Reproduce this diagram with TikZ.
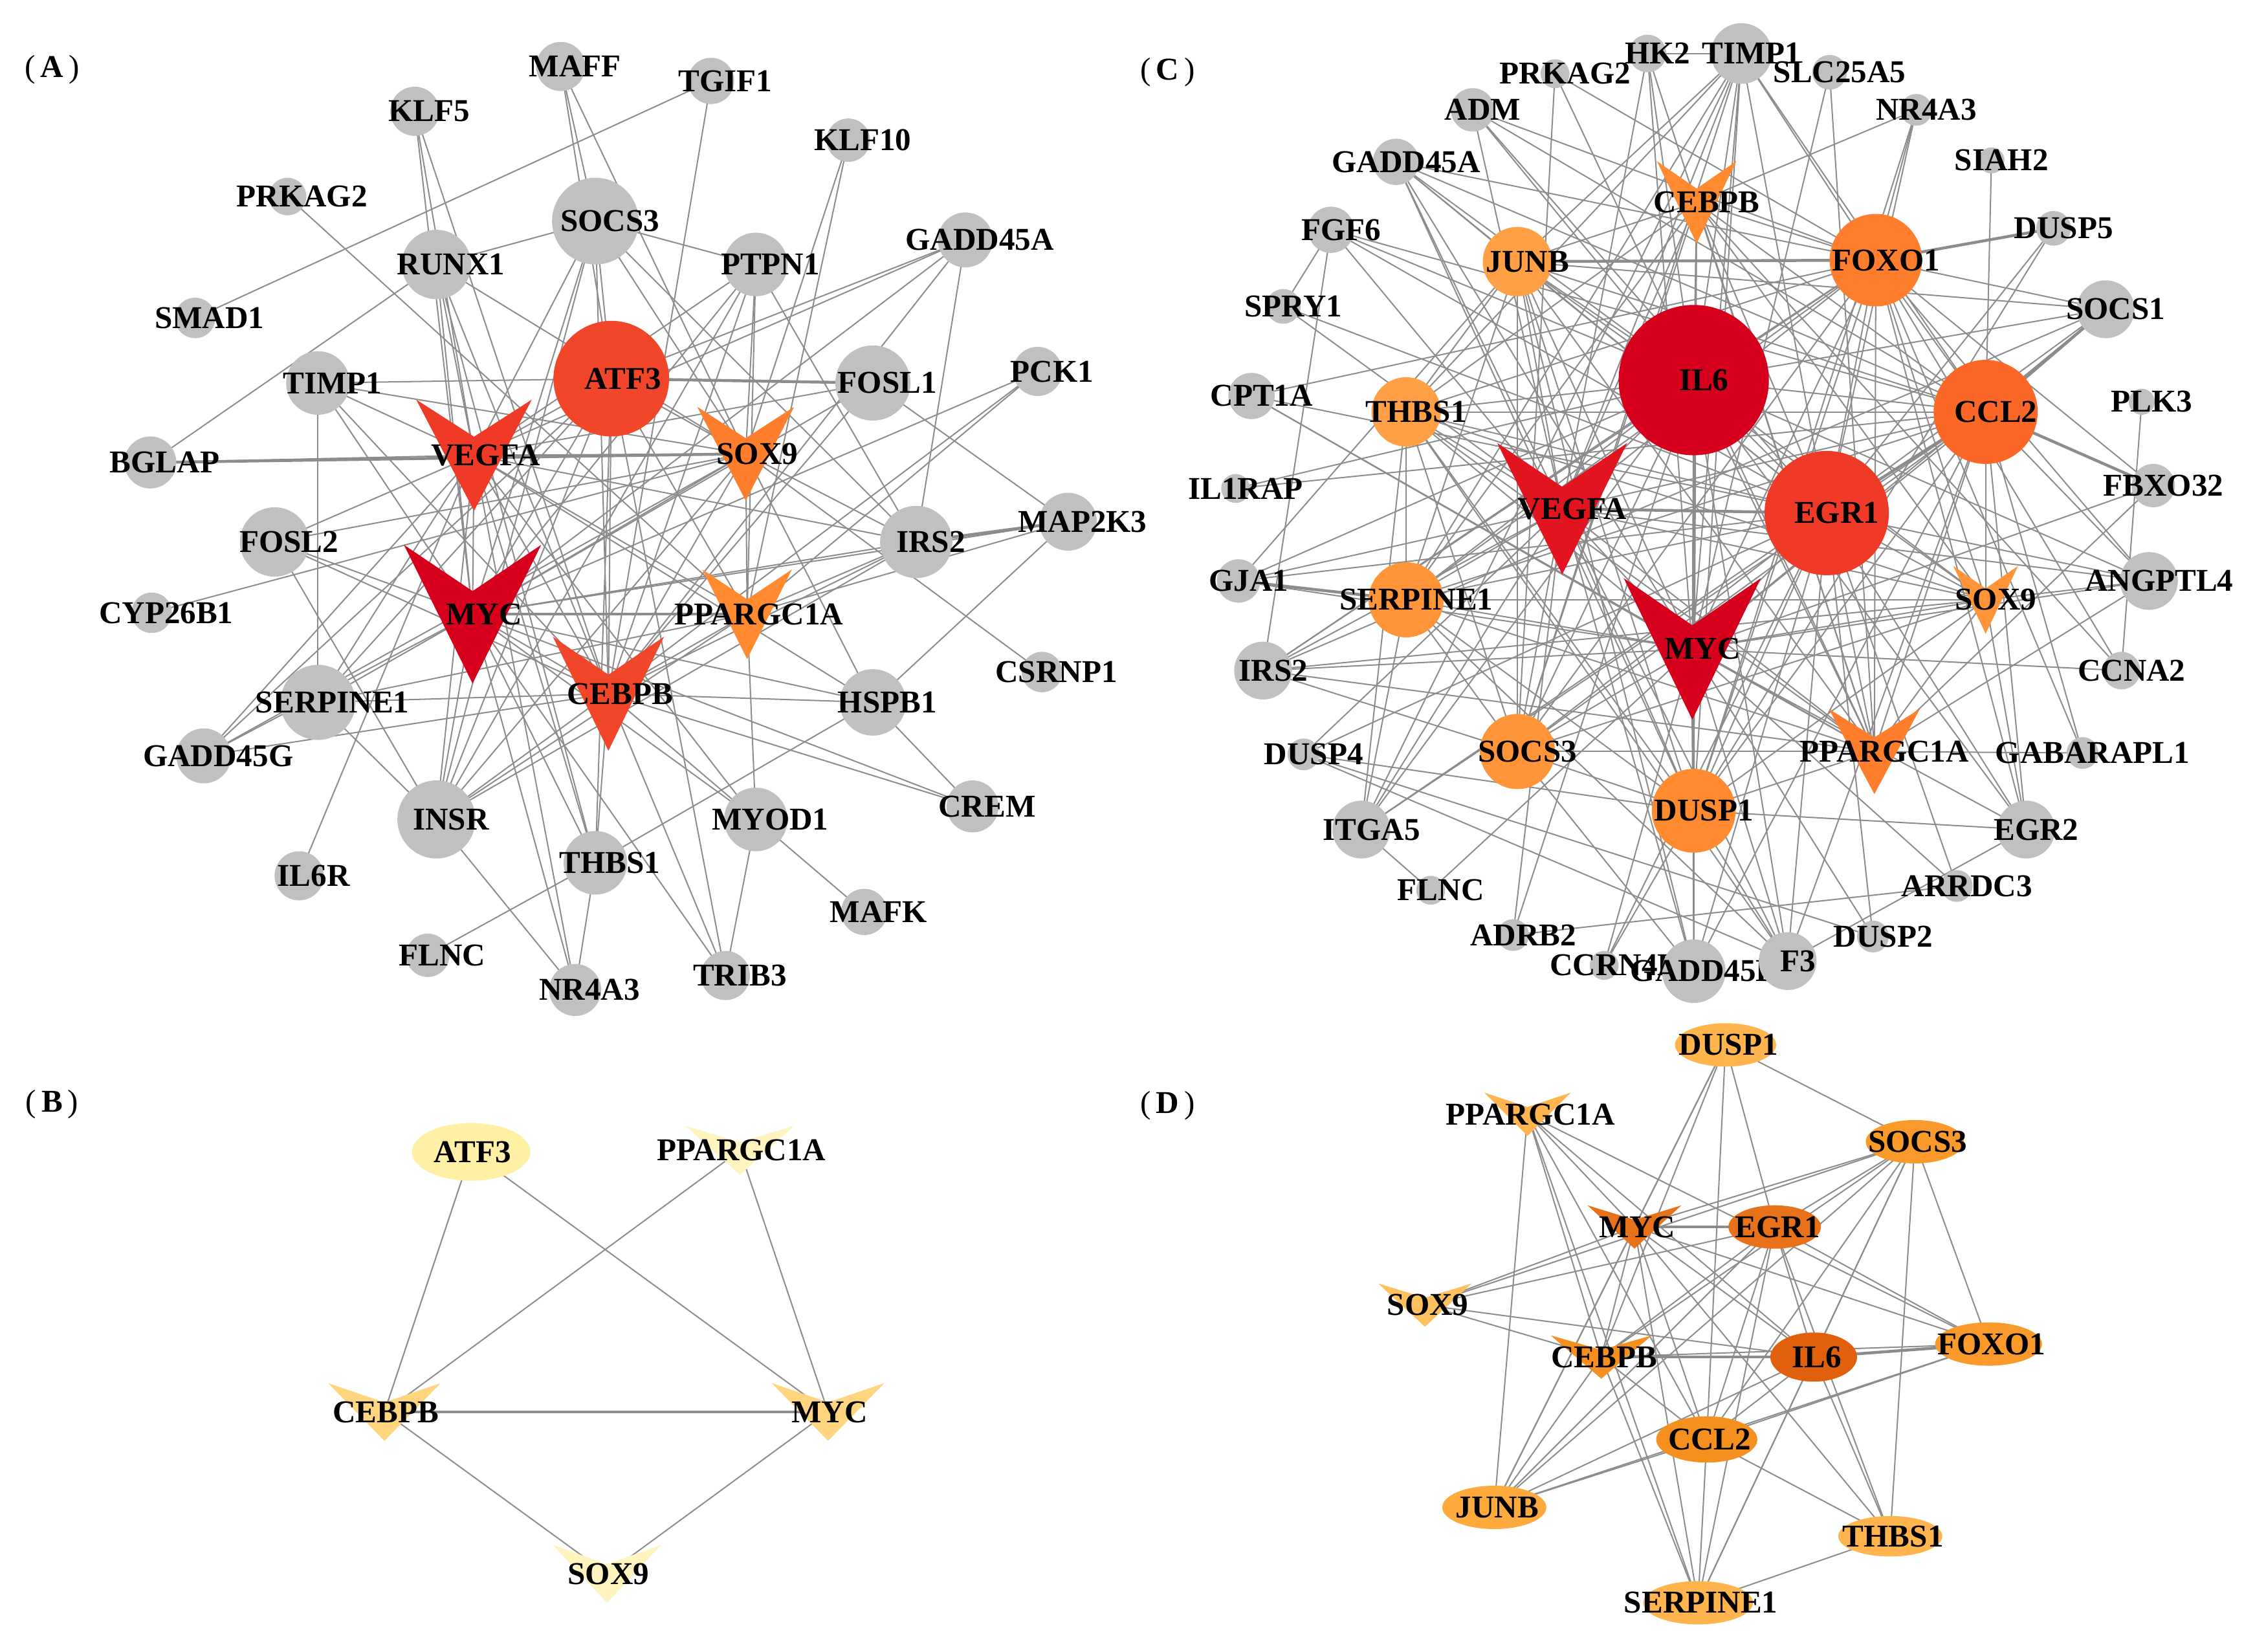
\documentclass[tikz,border=0pt]{standalone}
\usepackage{fontspec}
\setmainfont{Liberation Serif}
\usetikzlibrary{backgrounds}
\usetikzlibrary{shapes.geometric}

\definecolor{nodegray}{HTML}{C0C0C0}
\definecolor{linkgray}{HTML}{8C8C8C}
% hub colours
\definecolor{hubdark}{HTML}{D6001C}
\definecolor{hubred}{HTML}{E2141F}
\definecolor{hubredB}{HTML}{EE3A26}
\definecolor{hubredC}{HTML}{F2462A}
\definecolor{huborgA}{HTML}{FA6726}
\definecolor{huborgB}{HTML}{FF7E2E}
\definecolor{huborgC}{HTML}{FF8A30}
\definecolor{huborgD}{HTML}{FF9438}
\definecolor{huborgE}{HTML}{FFA046}
% panel D colours
\definecolor{dorgA}{HTML}{E0600E}
\definecolor{dorgB}{HTML}{E8721A}
\definecolor{dorgC}{HTML}{F5901F}
\definecolor{dorgD}{HTML}{FA9A2A}
\definecolor{dorgE}{HTML}{FFAA3C}
\definecolor{dorgF}{HTML}{FFB44E}
\definecolor{dorgG}{HTML}{FFC060}
% panel B colours
\definecolor{ylwA}{HTML}{FFF0A5}
\definecolor{ylwB}{HTML}{FFF3BE}
\definecolor{ylwC}{HTML}{FFD580}

\newcommand\lblfont{\fontsize{22}{24}\selectfont\bfseries}
% V shaped node: name, x, y, width, height, colour, text
\newcommand\veenode[7]{%
  \fill[#6] (#2-#4/2,#3-#5/2) -- (#2,#3-#5/6) -- (#2+#4/2,#3-#5/2) -- (#2,#3+#5/2) -- cycle;
  \node[vnode, label={[lbl]center:#7}] (#1) at (#2,#3) {};
}

\begin{document}
\begin{tikzpicture}[
    x=1pt, y=-1pt,
    lbl/.style={font=\lblfont, inner sep=0pt, text=black},
    gnode/.style={circle, fill=nodegray, inner sep=0pt, minimum size=#1},
    hnode/.style={circle, inner sep=0pt, minimum size=#1},
    enode/.style={ellipse, inner sep=0pt},
    vnode/.style={inner sep=0pt, minimum size=0pt},
    paneltxt/.style={font=\fontsize{22}{24}\selectfont\bfseries, inner sep=0pt},
    link/.style={draw=linkgray, line width=0.9pt},
    heavy link/.style={draw=linkgray, line width=2pt},
    ]
    \useasboundingbox (0,0) rectangle (1568,1143);

    \node[paneltxt] (labA) at (36,48) {{\mdseries(}\,A\,{\mdseries)}};
    \node[paneltxt] (labB) at (36,764) {{\mdseries(}\,B\,{\mdseries)}};
    \node[paneltxt] (labC) at (808,50) {{\mdseries(}\,C\,{\mdseries)}};
    \node[paneltxt] (labD) at (808,765) {{\mdseries(}\,D\,{\mdseries)}};

    % ---------- panel A
    \begin{scope}[every label/.append style={xshift=10pt}]
    \node[gnode=34, label={[lbl]center:MAFF}] (aMAFF) at (388,46) {};
    \node[gnode=32, label={[lbl]center:TGIF1}] (aTGIF1) at (492,56) {};
    \node[gnode=34, label={[lbl]center:KLF5}] (aKLF5) at (287,77) {};
    \node[gnode=30, label={[lbl]center:KLF10}] (aKLF10) at (587,97) {};
    \node[gnode=26, label={[lbl]center:PRKAG2}] (aPRKAG2) at (199,136) {};
    \node[gnode=60, label={[lbl]center:SOCS3}] (aSOCS3) at (412,153) {};
    \node[gnode=48, label={[lbl]center:RUNX1}] (aRUNX1) at (302,183) {};
    \node[gnode=44, label={[lbl]center:PTPN1}] (aPTPN1) at (523,183) {};
    \node[gnode=38, label={[lbl]center:GADD45A}] (aGADD45A) at (668,166) {};
    \node[gnode=28, label={[lbl]center:SMAD1}] (aSMAD1) at (135,220) {};
    \node[gnode=44, label={[lbl]center:TIMP1}] (aTIMP1) at (220,265) {};
    \node[gnode=52, label={[lbl]center:FOSL1}] (aFOSL1) at (604,265) {};
    \node[gnode=34, label={[lbl]center:PCK1}] (aPCK1) at (718,257) {};
    \node[gnode=36, label={[lbl]center:BGLAP}] (aBGLAP) at (104,320) {};
    \node[gnode=40, label={[lbl]center:MAP2K3}] (aMAP2K3) at (739,361) {};
    \node[gnode=50, label={[lbl]center:IRS2}] (aIRS2) at (634,375) {};
    \node[gnode=48, label={[lbl]center:FOSL2}] (aFOSL2) at (190,375) {};
    \node[gnode=28, label={[lbl]center:CYP26B1}] (aCYP26B1) at (105,424) {};
    \node[gnode=28, label={[lbl]center:CSRNP1}] (aCSRNP1) at (721,465) {};
    \node[gnode=52, label={[lbl]center:SERPINE1}] (aSERPINE1) at (220,486) {};
    \node[gnode=46, label={[lbl]center:HSPB1}] (aHSPB1) at (604,486) {};
    \node[gnode=38, label={[lbl]center:GADD45G}] (aGADD45G) at (141,523) {};
    \node[gnode=54, label={[lbl]center:INSR}] (aINSR) at (302,567) {};
    \node[gnode=44, label={[lbl]center:MYOD1}] (aMYOD1) at (523,567) {};
    \node[gnode=36, label={[lbl]center:CREM}] (aCREM) at (673,558) {};
    \node[gnode=44, label={[lbl]center:THBS1}] (aTHBS1) at (412,597) {};
    \node[gnode=34, label={[lbl]center:IL6R}] (aIL6R) at (207,606) {};
    \node[gnode=32, label={[lbl]center:MAFK}] (aMAFK) at (598,631) {};
    \node[gnode=30, label={[lbl]center:FLNC}] (aFLNC) at (296,661) {};
    \node[gnode=36, label={[lbl]center:NR4A3}] (aNR4A3) at (398,685) {};
    \node[gnode=34, label={[lbl]center:TRIB3}] (aTRIB3) at (502,675) {};
    \end{scope}
    \begin{scope}[every label/.append style={xshift=8pt}]
    \node[hnode=80, fill=hubredC, label={[lbl]center:ATF3}] (aATF3) at (423,262) {};
    \veenode{aVEGFA}{328}{315}{80}{77}{hubredB}{VEGFA}
    \veenode{aSOX9}{516}{314}{67}{65}{huborgB}{SOX9}
    \veenode{aMYC}{327}{425}{95}{96}{hubdark}{MYC}
    \veenode{aPPARGC1A}{517}{425}{62}{62}{huborgC}{PPARGC1A}
    \veenode{aCEBPB}{421}{480}{77}{79}{hubredC}{CEBPB}
    \end{scope}

    % ---------- panel B
    \begin{scope}[every label/.append style={xshift=1pt}]
    \node[enode, fill=ylwA, minimum width=82, minimum height=40, label={[lbl]center:ATF3}] (bATF3) at (326,797) {};
    \veenode{bPPARGC1A}{512}{796}{75}{34}{ylwB}{PPARGC1A}
    \veenode{bCEBPB}{266}{977}{78}{40}{ylwC}{CEBPB}
    \veenode{bMYC}{573}{977}{78}{40}{ylwC}{MYC}
    \veenode{bSOX9}{420}{1089}{75}{40}{ylwB}{SOX9}
    \end{scope}

    % ---------- panel C
    \begin{scope}[every label/.append style={xshift=7pt}]
    \node[gnode=26, label={[lbl]center:HK2}] (cHK2) at (1140,37) {};
    \node[gnode=42, label={[lbl]center:TIMP1}] (cTIMP1) at (1205,37) {};
    \node[gnode=20, label={[lbl]center:PRKAG2}] (cPRKAG2) at (1076,51) {};
    \node[gnode=24, label={[lbl]center:SLC25A5}] (cSLC25A5) at (1266,50) {};
    \node[gnode=30, label={[lbl]center:ADM}] (cADM) at (1019,76) {};
    \node[gnode=22, label={[lbl]center:NR4A3}] (cNR4A3) at (1326,76) {};
    \node[gnode=32, label={[lbl]center:GADD45A}] (cGADD45A) at (966,112) {};
    \node[gnode=18, label={[lbl]center:SIAH2}] (cSIAH2) at (1378,111) {};
    \node[gnode=32, label={[lbl]center:FGF6}] (cFGF6) at (921,159) {};
    \node[gnode=24, label={[lbl]center:DUSP5}] (cDUSP5) at (1421,158) {};
    \node[gnode=24, label={[lbl]center:SPRY1}] (cSPRY1) at (888,212) {};
    \node[gnode=40, label={[lbl]center:SOCS1}] (cSOCS1) at (1457,214) {};
    \node[gnode=32, label={[lbl]center:CPT1A}] (cCPT1A) at (866,274) {};
    \node[gnode=18, label={[lbl]center:PLK3}] (cPLK3) at (1482,278) {};
    \node[gnode=20, label={[lbl]center:IL1RAP}] (cIL1RAP) at (855,338) {};
    \node[gnode=30, label={[lbl]center:FBXO32}] (cFBXO32) at (1490,336) {};
    \node[gnode=30, label={[lbl]center:GJA1}] (cGJA1) at (857,402) {};
    \node[gnode=40, label={[lbl]center:ANGPTL4}] (cANGPTL4) at (1487,402) {};
    \node[gnode=40, label={[lbl]center:IRS2}] (cIRS2) at (874,464) {};
    \node[gnode=26, label={[lbl]center:CCNA2}] (cCCNA2) at (1468,464) {};
    \node[gnode=22, label={[lbl]center:DUSP4}] (cDUSP4) at (902,522) {};
    \node[gnode=22, label={[lbl]center:GABARAPL1}] (cGABARAPL1) at (1441,521) {};
    \node[gnode=40, label={[lbl]center:ITGA5}] (cITGA5) at (942,574) {};
    \node[gnode=40, label={[lbl]center:EGR2}] (cEGR2) at (1402,574) {};
    \node[gnode=20, label={[lbl]center:FLNC}] (cFLNC) at (990,616) {};
    \node[gnode=22, label={[lbl]center:ARRDC3}] (cARRDC3) at (1354,613) {};
    \node[gnode=22, label={[lbl]center:ADRB2}] (cADRB2) at (1047,647) {};
    \node[gnode=22, label={[lbl]center:DUSP2}] (cDUSP2) at (1296,648) {};
    % coloured hubs
    \node[hnode=48, fill=huborgE, label={[lbl]center:JUNB}] (cJUNB) at (1050,181) {};
    \node[hnode=64, fill=huborgB, label={[lbl]center:FOXO1}] (cFOXO1) at (1298,180) {};
    \node[hnode=104, fill=hubdark, label={[lbl]center:IL6}] (cIL6) at (1172,263) {};
    \node[hnode=48, fill=huborgE, label={[lbl]center:THBS1}] (cTHBS1) at (973,285) {};
    \node[hnode=72, fill=huborgA, label={[lbl]center:CCL2}] (cCCL2) at (1374,285) {};
    \node[hnode=86, fill=hubredB, label={[lbl]center:EGR1}] (cEGR1) at (1264,355) {};
    \node[hnode=52, fill=huborgD, label={[lbl]center:SERPINE1}] (cSERPINE1) at (973,415) {};
    \node[hnode=52, fill=huborgD, label={[lbl]center:SOCS3}] (cSOCS3) at (1050,520) {};
    \node[hnode=58, fill=huborgC, label={[lbl]center:DUSP1}] (cDUSP1) at (1172,561) {};
    \veenode{cCEBPB}{1174}{140}{55}{57}{huborgC}{CEBPB}
    \veenode{cVEGFA}{1081}{352}{90}{91}{hubred}{VEGFA}
    \veenode{cSOX9}{1374}{415}{45}{47}{huborgD}{SOX9}
    \veenode{cMYC}{1171}{449}{95}{98}{hubdark}{MYC}
    \veenode{cPPARGC1A}{1297}{520}{63}{59}{huborgB}{PPARGC1A}
    % overlapping ones at the bottom
    \node[gnode=20, label={[lbl]center:CCRN4L}] (cCCRN4L) at (1110,668) {};
    \node[gnode=44, label={[lbl]center:GADD45B}] (cGADD45B) at (1172,672) {};
    \node[gnode=40, label={[lbl]center:F3}] (cF3) at (1237,665) {};
    \end{scope}

    % ---------- panel D
    \begin{scope}[every label/.append style={xshift=2pt}]
    \node[enode, fill=dorgF, minimum width=70, minimum height=30, label={[lbl]center:DUSP1}] (dDUSP1) at (1194,723) {};
    \veenode{dPPARGC1A}{1057}{771}{60}{30}{dorgF}{PPARGC1A}
    \node[enode, fill=dorgD, minimum width=68, minimum height=30, label={[lbl]center:SOCS3}] (dSOCS3) at (1325,790) {};
    \veenode{dMYC}{1131}{849}{65}{30}{dorgB}{MYC}
    \node[enode, fill=dorgB, minimum width=64, minimum height=30, label={[lbl]center:EGR1}] (dEGR1) at (1228,849) {};
    \veenode{dSOX9}{986}{903}{65}{30}{dorgG}{SOX9}
    \veenode{dCEBPB}{1108}{939}{70}{30}{dorgC}{CEBPB}
    \node[enode, fill=dorgA, minimum width=60, minimum height=34, label={[lbl]center:IL6}] (dIL6) at (1255,939) {};
    \node[enode, fill=dorgD, minimum width=74, minimum height=30, label={[lbl]center:FOXO1}] (dFOXO1) at (1376,930) {};
    \node[enode, fill=dorgC, minimum width=70, minimum height=32, label={[lbl]center:CCL2}] (dCCL2) at (1181,996) {};
    \node[enode, fill=dorgE, minimum width=72, minimum height=30, label={[lbl]center:JUNB}] (dJUNB) at (1034,1043) {};
    \node[enode, fill=dorgF, minimum width=72, minimum height=28, label={[lbl]center:THBS1}] (dTHBS1) at (1308,1063) {};
    \node[enode, fill=dorgF, minimum width=76, minimum height=30, label={[lbl]center:SERPINE1}] (dSERPINE1) at (1175,1109) {};
    \end{scope}

    % ---------- links
    \begin{scope}[on background layer]
    % A: hubs with each other
    \foreach \p [count=\i] in {aATF3,aVEGFA,aSOX9,aMYC,aPPARGC1A,aCEBPB}
      \foreach \q [count=\j] in {aATF3,aVEGFA,aSOX9,aMYC,aPPARGC1A,aCEBPB}
        {\ifnum\j>\i \draw[link] (\p.center) -- (\q.center); \fi}
    \foreach \g/\hs in {aMAFF/{aSOCS3,aATF3,aSOX9}, aTGIF1/{aSMAD1,aCEBPB},
        aKLF5/{aVEGFA,aMYC,aCEBPB}, aKLF10/{aSOX9,aPPARGC1A}, aPRKAG2/{aPPARGC1A},
        aSOCS3/{aRUNX1,aPTPN1,aVEGFA,aMYC,aCEBPB,aATF3,aSOX9,aIRS2,aINSR},
        aRUNX1/{aVEGFA,aMYC,aCEBPB,aBGLAP,aSOX9,aTHBS1},
        aPTPN1/{aINSR,aIRS2,aSOX9,aMYC,aVEGFA,aPPARGC1A,aCEBPB},
        aGADD45A/{aATF3,aMYC,aCEBPB,aVEGFA,aIRS2},
        aTIMP1/{aVEGFA,aSERPINE1,aATF3,aSOX9,aMYC,aCEBPB},
        aFOSL1/{aVEGFA,aMYC,aCEBPB,aMAP2K3}, aPCK1/{aPPARGC1A,aCEBPB,aMYC},
        aBGLAP/{aVEGFA}, aMAP2K3/{aMYC,aPPARGC1A,aHSPB1},
        aIRS2/{aINSR,aMYC,aPPARGC1A,aVEGFA,aCEBPB,aSOX9},
        aFOSL2/{aMYC,aSOX9,aCEBPB,aVEGFA,aINSR}, aCYP26B1/{aSOX9}, aCSRNP1/{aSOX9},
        aSERPINE1/{aVEGFA,aMYC,aCEBPB,aATF3,aPPARGC1A,aINSR},
        aHSPB1/{aMYC,aCEBPB,aVEGFA,aCREM,aTHBS1,aSOX9},
        aGADD45G/{aMYC,aVEGFA,aCEBPB,aATF3,aSOX9},
        aINSR/{aMYC,aVEGFA,aCEBPB,aATF3,aSOX9,aPPARGC1A,aNR4A3},
        aMYOD1/{aPPARGC1A,aMYC,aCEBPB,aVEGFA,aMAFK,aTRIB3},
        aCREM/{aCEBPB,aMYC}, aTHBS1/{aVEGFA,aMYC,aATF3,aCEBPB,aFLNC,aNR4A3},
        aIL6R/{aVEGFA}, aNR4A3/{aMYC,aVEGFA}, aTRIB3/{aCEBPB,aATF3,aMYC}}
      \foreach \h in \hs {\draw[link] (\g.center) -- (\h.center);}
    \foreach \p/\q in {aBGLAP/aSOX9, aFOSL1/aATF3, aMYC/aPPARGC1A, aMAP2K3/aIRS2}
      \draw[heavy link] (\p.center) -- (\q.center);

    % B
    \foreach \p/\q in {bATF3/bCEBPB, bATF3/bMYC, bPPARGC1A/bCEBPB, bPPARGC1A/bMYC,
        bCEBPB/bSOX9, bMYC/bSOX9}
      \draw[link] (\p.center) -- (\q.center);
    \draw[heavy link] (bCEBPB.center) -- (bMYC.center);

    % C: hubs with each other
    \foreach \p [count=\i] in {cIL6,cVEGFA,cMYC,cEGR1,cCCL2,cFOXO1,cDUSP1,cSOCS3,
        cSERPINE1,cTHBS1,cJUNB,cCEBPB,cSOX9,cPPARGC1A}
      \foreach \q [count=\j] in {cIL6,cVEGFA,cMYC,cEGR1,cCCL2,cFOXO1,cDUSP1,cSOCS3,
          cSERPINE1,cTHBS1,cJUNB,cCEBPB,cSOX9,cPPARGC1A}
        {\ifnum\j>\i \draw[link] (\p.center) -- (\q.center); \fi}
    \foreach \g/\hs in {cHK2/{cTIMP1,cMYC,cVEGFA,cIL6,cPPARGC1A},
        cTIMP1/{cIL6,cVEGFA,cMYC,cEGR1,cCCL2,cSERPINE1,cTHBS1,cJUNB,cSOCS3,cFOXO1,cDUSP1,cITGA5},
        cPRKAG2/{cPPARGC1A,cFOXO1,cSOCS3}, cSLC25A5/{cPPARGC1A,cMYC},
        cADM/{cVEGFA,cIL6,cFOXO1,cEGR1,cCCL2}, cNR4A3/{cCEBPB,cEGR1,cFOXO1,cDUSP1},
        cGADD45A/{cJUNB,cMYC,cIL6,cEGR1,cFOXO1,cCCL2,cDUSP1,cVEGFA}, cSIAH2/{cCCL2},
        cFGF6/{cSPRY1,cIRS2,cIL6,cEGR1,cVEGFA,cCCL2}, cDUSP5/{cEGR1,cDUSP1},
        cSPRY1/{cEGR1,cVEGFA}, cSOCS1/{cIL6,cFOXO1,cJUNB,cEGR1,cMYC,cIRS2},
        cCPT1A/{cFOXO1,cPPARGC1A,cMYC,cEGR1}, cPLK3/{cCCNA2}, cIL1RAP/{cIL6,cCCL2},
        cFBXO32/{cFOXO1,cMYC,cPPARGC1A}, cGJA1/{cVEGFA,cIL6,cMYC,cEGR1,cJUNB},
        cANGPTL4/{cPPARGC1A,cSOX9,cEGR1,cMYC,cVEGFA,cIL6,cCCL2,cFOXO1},
        cIRS2/{cSOCS3,cIL6,cPPARGC1A,cMYC,cVEGFA,cFOXO1,cSOX9},
        cCCNA2/{cMYC,cFOXO1,cCEBPB}, cDUSP4/{cDUSP1,cEGR1,cVEGFA,cF3},
        cGABARAPL1/{cFOXO1,cPPARGC1A,cCCL2},
        cITGA5/{cVEGFA,cSERPINE1,cTHBS1,cEGR1,cIL6,cFLNC,cCCL2},
        cEGR2/{cEGR1,cDUSP1,cMYC,cSOX9,cIL6,cFOXO1,cCCL2}, cFLNC/{cMYC},
        cARRDC3/{cADRB2,cEGR1,cMYC}, cADRB2/{cIL6,cVEGFA}, cDUSP2/{cDUSP4,cEGR1,cMYC},
        cCCRN4L/{cEGR1,cMYC,cDUSP1},
        cGADD45B/{cMYC,cIL6,cEGR1,cSOCS3,cDUSP1,cVEGFA,cCCL2,cJUNB},
        cF3/{cEGR1,cIL6,cVEGFA,cSERPINE1,cDUSP1,cCCL2,cEGR2,cTHBS1,cMYC}}
      \foreach \h in \hs {\draw[link] (\g.center) -- (\h.center);}
    \foreach \p/\q in {cJUNB/cFOXO1, cSOCS1/cCCL2, cGJA1/cSERPINE1, cFOXO1/cDUSP5,
        cCCL2/cFBXO32, cMYC/cDUSP1, cEGR1/cCCL2, cVEGFA/cEGR1}
      \draw[heavy link] (\p.center) -- (\q.center);

    % D
    \foreach \g/\hs in {dDUSP1/{dSOCS3,dEGR1,dMYC,dCEBPB,dCCL2,dJUNB},
        dPPARGC1A/{dFOXO1,dIL6,dCCL2,dSERPINE1,dCEBPB,dJUNB,dMYC},
        dSOCS3/{dSOX9,dEGR1,dIL6,dCCL2,dCEBPB,dJUNB,dFOXO1,dTHBS1,dMYC,dSERPINE1},
        dMYC/{dSOX9,dIL6,dFOXO1,dCCL2,dTHBS1,dSERPINE1,dJUNB,dCEBPB},
        dEGR1/{dSOX9,dCEBPB,dJUNB,dIL6,dFOXO1,dCCL2,dTHBS1,dSERPINE1},
        dSOX9/{dIL6,dCEBPB}, dCEBPB/{dJUNB,dCCL2,dSERPINE1,dFOXO1},
        dIL6/{dCCL2,dJUNB,dTHBS1,dSERPINE1}, dFOXO1/{dCCL2,dJUNB},
        dCCL2/{dJUNB,dTHBS1,dSERPINE1}, dTHBS1/{dSERPINE1}}
      \foreach \h in \hs {\draw[link] (\g.center) -- (\h.center);}
    \foreach \p/\q in {dMYC/dEGR1, dCEBPB/dIL6, dIL6/dFOXO1}
      \draw[heavy link] (\p.center) -- (\q.center);
    \end{scope}
\end{tikzpicture}
\end{document}
